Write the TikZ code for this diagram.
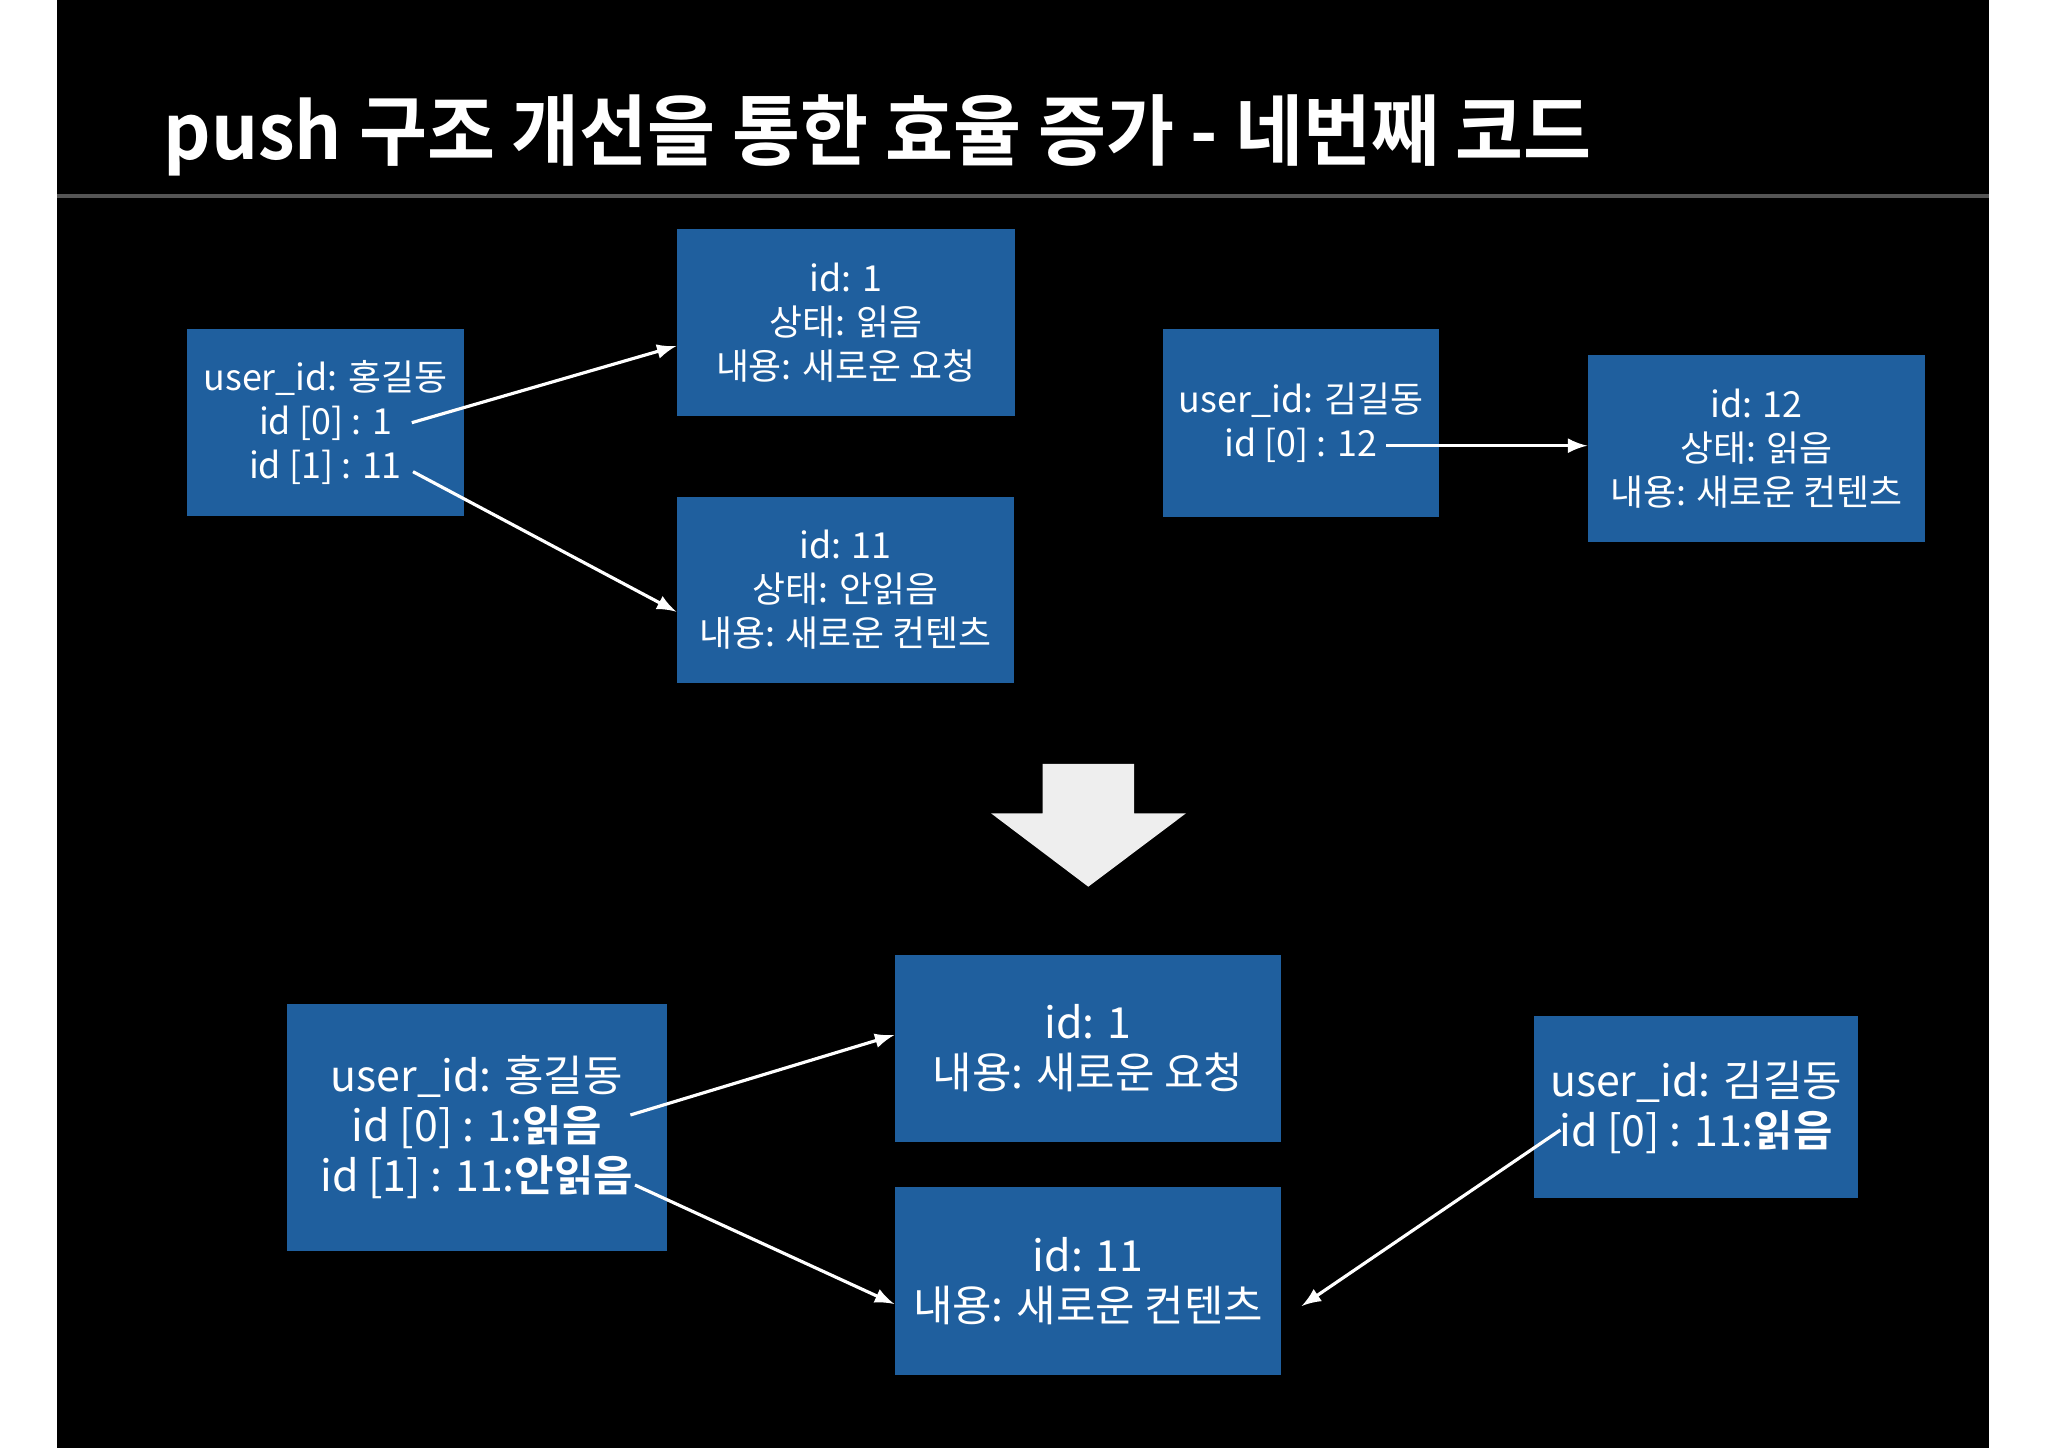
\documentclass[tikz,border=0pt]{standalone}
\usepackage{fontspec}
\setmainfont{Noto Sans CJK KR}[BoldFont={Noto Sans CJK KR Bold}]
\usetikzlibrary{calc}
\definecolor{boxblue}{RGB}{31,95,158}
\definecolor{rulegray}{RGB}{85,85,85}
\definecolor{arrowgray}{RGB}{238,238,238}
\tikzset {
  record style/.style = {
    fill=boxblue,
    text=white,
    align=center,
    inner sep=0pt,
    font=\fontsize{10.2}{12.5}\selectfont
  },
  record big/.style = {
    record style,
    font=\fontsize{12.2}{14.2}\selectfont
  },
  link style/.style = {
    -latex,
    draw=white,
    line width=0.9pt
  }
}

\begin{document}
\begin{tikzpicture}

\useasboundingbox (0,0) rectangle (20.48,14.48);
\fill[black] (0.57,0) rectangle (19.89,14.48);

% --- Title ---
\node[anchor=base west, inner sep=0pt, text=white, xscale=0.956, transform shape,
  font=\fontsize{22}{26}\selectfont\bfseries]
  (title) at (1.63,12.88) {push 구조 개선을 통한 효율 증가 - 네번째 코드};
\draw[rulegray, line width=1.2pt] (0.57,12.52) -- (19.89,12.52);

% --- Before ---
\coordinate (U1)  at ( 3.255,10.255);
\coordinate (N1)  at ( 8.458,11.255);
\coordinate (N11) at ( 8.455, 8.580);
\coordinate (U2)  at (13.010,10.250);
\coordinate (N12) at (17.565, 9.995);

\node[record style, minimum width=2.77cm, minimum height=1.87cm] (u1) at (U1)
  {user\_id: 홍길동\\id [0] : 1\\id [1] : 11};
\node[record style, minimum width=3.375cm, minimum height=1.87cm] (n1) at (N1)
  {id: 1\\상태: 읽음\\내용: 새로운 요청};
\node[record style, minimum width=3.37cm, minimum height=1.86cm] (n11) at (N11)
  {id: 11\\상태: 안읽음\\내용: 새로운 컨텐츠};
\node[record style, minimum width=2.76cm, minimum height=1.88cm] (u2) at (U2)
  {user\_id: 김길동\\id [0] : 12};
\node[record style, minimum width=3.37cm, minimum height=1.87cm] (n12) at (N12)
  {id: 12\\상태: 읽음\\내용: 새로운 컨텐츠};

\coordinate (u1a) at ( 4.118,10.253);
\coordinate (u1b) at ( 4.130, 9.763);
\coordinate (u2a) at (13.860,10.023);

\draw[link style] (u1a) -- ([yshift=-0.235cm]n1.west);
\draw[link style] (u1b) -- ([yshift=-0.217cm]n11.west);
\draw[link style] (u2a) -- (u2a -| n12.west);

% --- Big arrow ---
\fill[arrowgray] (10.427,6.840) -- (11.340,6.840) -- (11.340,6.347) -- (11.860,6.347)
  -- (10.883,5.613) -- (9.910,6.347) -- (10.427,6.347) -- cycle;

% --- After ---
\coordinate (V1)  at ( 4.768, 3.205);
\coordinate (M1)  at (10.880, 3.995);
\coordinate (M11) at (10.880, 1.670);
\coordinate (V2)  at (16.960, 3.410);

\node[record big, minimum width=3.795cm, minimum height=2.47cm] (v1) at (V1)
  {user\_id: 홍길동\\id [0] : 1:\textbf{읽음}\\id [1] : 11:\textbf{안읽음}};
\node[record big, minimum width=3.86cm, minimum height=1.87cm] (m1) at (M1)
  {id: 1\\내용: 새로운 요청};
\node[record big, minimum width=3.86cm, minimum height=1.88cm] (m11) at (M11)
  {id: 11\\내용: 새로운 컨텐츠};
\node[record big, minimum width=3.235cm, minimum height=1.82cm] (v2) at (V2)
  {user\_id: 김길동\\id [0] : 11:\textbf{읽음}};

\coordinate (v1a) at ( 6.304, 3.330);
\coordinate (v1b) at ( 6.350, 2.630);
\coordinate (v2a) at (15.604, 3.180);

\draw[link style] (v1a) -- ([yshift=0.135cm]m1.west);
\draw[link style] (v1b) -- ([yshift=-0.23cm]m11.west);
\draw[link style] (v2a) -- ([xshift=0.2cm, yshift=-0.25cm]m11.east);

\end{tikzpicture}
\end{document}
